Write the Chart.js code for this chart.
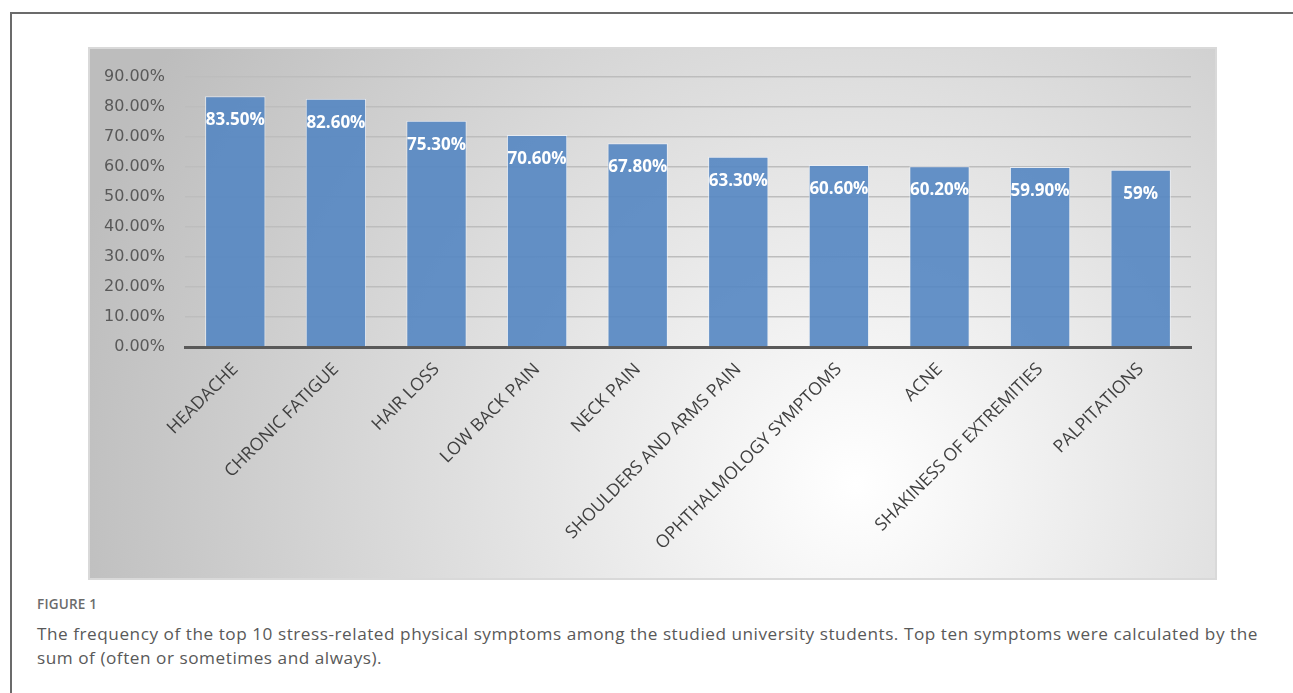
<!DOCTYPE html>
<html>
<head>
<meta charset="utf-8">
<script src="https://cdn.jsdelivr.net/npm/chart.js@4.4.0/dist/chart.umd.min.js"></script>
<style>
body { margin:0; background:#fff; width:1293px; height:693px; overflow:hidden; position:relative; font-family:"Open Sans", sans-serif; }
#frame { position:absolute; left:10px; top:12px; width:1300px; height:700px; border-left:2px solid #6b6b6b; border-top:2px solid #6b6b6b; }
#box { position:absolute; left:88px; top:47px; width:1129px; height:533px; }
#figlabel { position:absolute; left:37px; top:595px; font-size:13.5px; font-weight:600; color:#6b6b6b; letter-spacing:0.2px; }
#caption { position:absolute; left:37px; top:622px; font-size:17.2px; line-height:24px; color:#595959; letter-spacing:0.53px; white-space:nowrap; }
</style>
</head>
<body>
<div id="frame"></div>
<div id="box"><canvas id="myChart" width="1129" height="533"></canvas></div>
<div id="figlabel">FIGURE 1</div>
<div id="caption">The frequency of the top 10 stress-related physical symptoms among the studied university students. Top ten symptoms were calculated by the<br>sum of (often or sometimes and always).</div>
<script>
// données
var symptoms = ['HEADACHE', 'CHRONIC FATIGUE', 'HAIR LOSS', 'LOW BACK PAIN', 'NECK PAIN',
    'SHOULDERS AND ARMS PAIN', 'OPHTHALMOLOGY SYMPTOMS', 'ACNE', 'SHAKINESS OF EXTREMITIES', 'PALPITATIONS'];
var frequency = [83.5, 82.6, 75.3, 70.6, 67.8, 63.3, 60.6, 60.2, 59.9, 59];
var valueLabels = ['83.50%', '82.60%', '75.30%', '70.60%', '67.80%', '63.30%', '60.60%', '60.20%', '59.90%', '59%'];

// fond dégradé
var fondPlugin = {
    id: 'fond',
    beforeDraw: function(chart) {
        var ctx = chart.ctx;
        var w = chart.width, h = chart.height;
        ctx.save();
        var g = ctx.createRadialGradient(w*0.68, h*0.82, 0, w*0.68, h*0.82, w*0.72);
        g.addColorStop(0, '#ffffff');
        g.addColorStop(1, '#bdbdbd');
        ctx.fillStyle = g;
        ctx.fillRect(0, 0, w, h);
        ctx.strokeStyle = '#d9d9d9';
        ctx.lineWidth = 2;
        ctx.strokeRect(1, 1, w-2, h-2);
        ctx.restore();
    }
};

// étiquettes des barres
var etiquettes = {
    id: 'etiquettes',
    afterDatasetsDraw: function(chart) {
        var ctx = chart.ctx;
        var meta = chart.getDatasetMeta(0);
        ctx.save();
        ctx.font = 'bold 17px "Open Sans", sans-serif';
        ctx.fillStyle = '#ffffff';
        ctx.textAlign = 'center';
        ctx.textBaseline = 'middle';
        meta.data.forEach(function(bar, i) {
            ctx.fillText(valueLabels[i], bar.x, bar.y + 24);
        });
        ctx.restore();
    }
};

var data = {
    labels: symptoms,
    datasets: [{
        data: frequency,
        backgroundColor: 'rgba(84,134,194,0.9)',
        borderColor: 'rgba(235,240,248,0.8)',
        borderWidth: 1,
        barPercentage: 0.6,
        categoryPercentage: 1
    }]
};

var config = {
    type: 'bar',
    data: data,
    plugins: [fondPlugin, etiquettes],
    options: {
        responsive: false,
        animation: { duration: 0 },
        layout: { padding: { top: 26, right: 26, left: 0, bottom: 0 } },
        plugins: { legend: { display: false }, tooltip: { enabled: false } },
        scales: {
            x: {
                grid: { display: false },
                border: { color: '#595959', width: 3 },
                ticks: {
                    color: '#404040',
                    font: { size: 17.6, family: '"Open Sans", sans-serif' },
                    maxRotation: 45, minRotation: 45,
                    padding: 4
                },
                afterFit: function(scale) { scale.height = 233; }
            },
            y: {
                min: 0, max: 90,
                grid: { color: '#bdbdbd', lineWidth: 1.5, drawTicks: false },
                border: { display: false },
                ticks: {
                    stepSize: 10,
                    color: '#595959',
                    padding: 20,
                    font: { size: 16, family: '"DejaVu Sans", sans-serif' },
                    callback: function(v) { return v.toFixed(2) + '%'; }
                },
                afterFit: function(scale) { scale.width = 97; }
            }
        }
    }
};

var myChart = new Chart(document.getElementById('myChart'), config);
</script>
</body>
</html>
